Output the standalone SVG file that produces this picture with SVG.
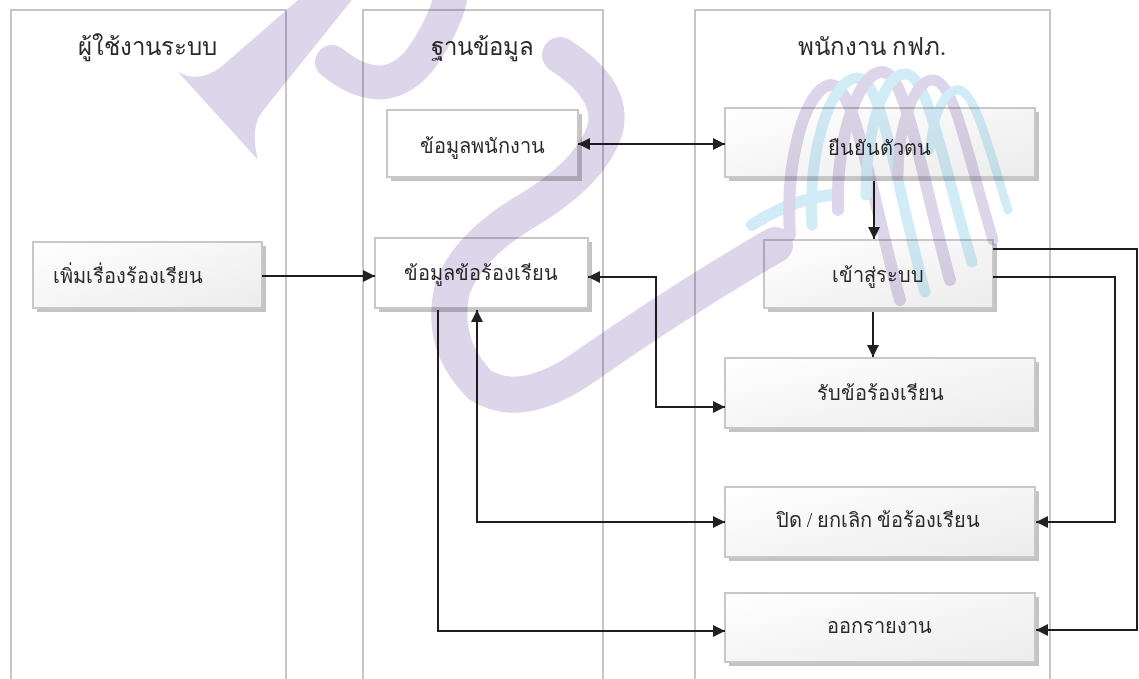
<svg xmlns="http://www.w3.org/2000/svg" width="1139" height="679" viewBox="0 0 1139 679">
<defs>
<linearGradient id="g" x1="0" y1="0" x2="1" y2="1">
<stop offset="0" stop-color="#ffffff"/><stop offset="1" stop-color="#ececec"/>
</linearGradient>
<marker id="ah" viewBox="0 0 12 12" refX="12" refY="6" markerWidth="12" markerHeight="12" markerUnits="userSpaceOnUse" orient="auto-start-reverse">
<path d="M0,0 L12,6 L0,12 Z" fill="#222"/>
</marker>
<style>
.lane{fill:none;stroke:#b4b4b4;stroke-width:1.5}
.sh{fill:#c4c4c4}
.bx{fill:url(#g);stroke:#c8c8c8;stroke-width:2}
.bw{fill:#fff;stroke:#c8c8c8;stroke-width:2}
.t{font-family:"Liberation Serif","DejaVu Serif",serif;font-size:20px;font-weight:300;fill:#2a2a2a;text-anchor:middle}
.h{font-family:"Liberation Serif","DejaVu Serif",serif;font-size:24px;font-weight:300;fill:#2a2a2a;text-anchor:middle}
.c{fill:none;stroke:#1e1e1e;stroke-width:2}
.wp{fill:none;stroke:#ddd5e9;stroke-linecap:round}
.wb{fill:none;stroke:#d2ecf7;stroke-linecap:round}
#watermark{mix-blend-mode:multiply}
</style>
</defs>
<rect width="1139" height="679" fill="#fff"/>
<g id="lanes">
<path class="lane" d="M11,679 V10 H286 V679"/>
<path class="lane" d="M363,679 V10 H603 V679"/>
<path class="lane" d="M695,679 V10 H1050 V679"/>
<text class="h" x="147" y="55">ผู้ใช้งานระบบ</text>
<text class="h" x="482" y="55">ฐานข้อมูล</text>
<text class="h" x="872" y="55">พนักงาน กฟภ.</text>
</g>
<g id="n-emp-data"><rect class="sh" x="391" y="114" width="191" height="67"/><rect class="bw" x="387" y="110" width="191" height="67"/><text class="t" x="482" y="153">ข้อมูลพนักงาน</text></g>
<g id="n-verify"><rect class="sh" x="729" y="112" width="310" height="69"/><rect class="bx" x="725" y="108" width="310" height="69"/><text class="t" x="879" y="155">ยืนยันตัวตน</text></g>
<g id="n-add"><rect class="sh" x="37" y="246" width="229" height="66"/><rect class="bx" x="33" y="242" width="229" height="66"/><text class="t" x="53" y="283" style="text-anchor:start">เพิ่มเรื่องร้องเรียน</text></g>
<g id="n-complaint-data"><rect class="sh" x="379" y="242" width="213" height="70"/><rect class="bw" x="375" y="238" width="213" height="70"/><text class="t" x="481" y="280">ข้อมูลข้อร้องเรียน</text></g>
<g id="n-login"><rect class="sh" x="768" y="244" width="229" height="68"/><rect class="bx" x="764" y="240" width="229" height="68"/><text class="t" x="878" y="282">เข้าสู่ระบบ</text></g>
<g id="n-receive"><rect class="sh" x="729" y="362" width="310" height="70"/><rect class="bx" x="725" y="358" width="310" height="70"/><text class="t" x="880" y="400">รับข้อร้องเรียน</text></g>
<g id="n-close"><rect class="sh" x="729" y="491" width="310" height="70"/><rect class="bx" x="725" y="487" width="310" height="70"/><text class="t" x="878" y="527">ปิด / ยกเลิก ข้อร้องเรียน</text></g>
<g id="n-report"><rect class="sh" x="729" y="597" width="310" height="69"/><rect class="bx" x="725" y="593" width="310" height="69"/><text class="t" x="879" y="633">ออกรายงาน</text></g>
<g id="connectors">
<path class="c" d="M578,144 H725" marker-start="url(#ah)" marker-end="url(#ah)"/>
<path class="c" d="M874,181 V239" marker-end="url(#ah)"/>
<path class="c" d="M873,312 V357" marker-end="url(#ah)"/>
<path class="c" d="M262,276 H375" marker-end="url(#ah)"/>
<path class="c" d="M588,277 H656 V407 H725" marker-start="url(#ah)" marker-end="url(#ah)"/>
<path class="c" d="M477,310 V522 H725" marker-start="url(#ah)" marker-end="url(#ah)"/>
<path class="c" d="M438,310 V631 H725" marker-end="url(#ah)"/>
<path class="c" d="M993,277 H1115 V522 H1036" marker-end="url(#ah)"/>
<path class="c" d="M993,249 H1137 V630 H1036" marker-end="url(#ah)"/>
</g>
<g id="watermark">
<path d="M178,72 L258,160 Q250,128 262,112 L352,0 L298,0 L222,66 Q200,84 178,72 Z" fill="#ddd5e9"/>
<path class="wp" d="M332,62 Q392,110 430,45 Q445,20 450,0" stroke-width="34"/>
<path class="wp" d="M560,55 Q615,90 605,130 Q590,175 520,215 Q465,250 452,290 Q440,345 480,385 Q520,410 580,370 Q680,300 775,245" stroke-width="36"/>
<path class="wb" d="M752,225 Q790,200 830,195" stroke-width="12"/>
<path class="wp" d="M790,235 C785,160 805,90 830,85 C855,82 870,190 900,300" stroke-width="12"/>
<path class="wb" d="M812,225 C808,150 830,80 857,78 C882,78 895,180 925,292" stroke-width="11"/>
<path class="wp" d="M838,210 C836,140 858,72 882,72 C906,72 920,170 950,280" stroke-width="12"/>
<path class="wb" d="M866,195 C866,130 884,72 906,74 C928,76 942,160 972,262" stroke-width="11"/>
<path class="wp" d="M898,175 C898,125 915,78 934,80 C955,84 966,150 993,240" stroke-width="11"/>
<path class="wb" d="M930,150 C932,115 946,88 960,90 C976,96 988,145 1008,210" stroke-width="9"/>
</g>
</svg>
